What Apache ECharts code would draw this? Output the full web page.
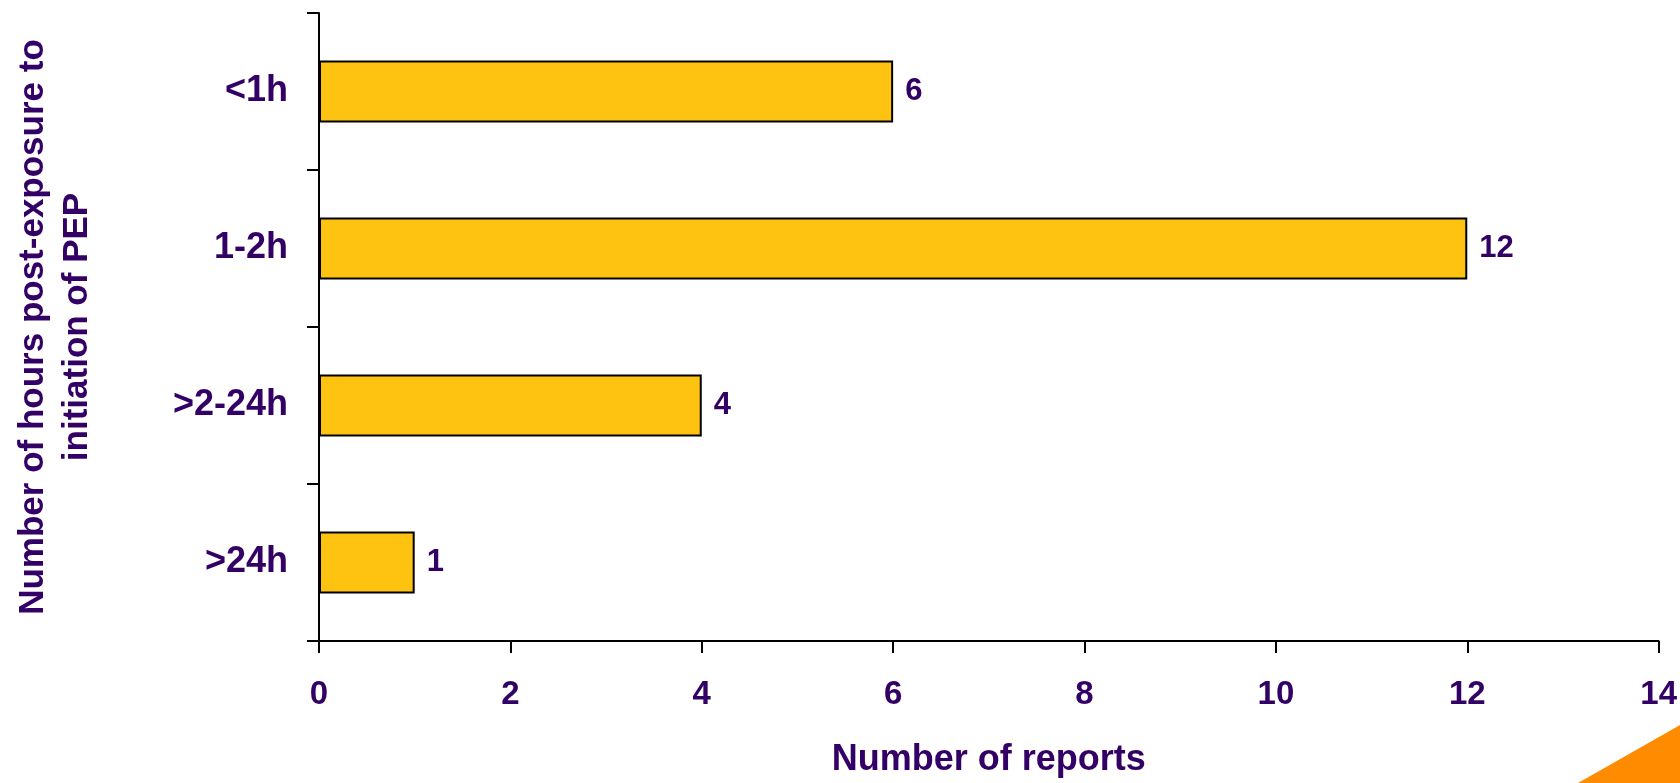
<!DOCTYPE html>
<html>
<head>
<meta charset="utf-8">
<script src="https://cdn.jsdelivr.net/npm/echarts@6/dist/echarts.min.js"></script>
<style>
html,body{margin:0;padding:0;background:#fff;}
#chart{width:1680px;height:783px;}
</style>
</head>
<body>
<div id="chart"></div>
<script>
const categories = ['<1h', '1-2h', '>2-24h', '>24h'];
const reports = [6, 12, 4, 1];
const xTicks = { min: 0, max: 14, interval: 2 };
const xTitle = 'Number of reports';
const yTitle = 'Number of hours post-exposure to\ninitiation of PEP';

const purple = '#330066';
const font = '"Liberation Sans", Arial, sans-serif';

const chart = echarts.init(document.getElementById('chart'), null, { renderer: 'canvas' });
chart.setOption({
  backgroundColor: '#ffffff',
  animation: false,
  grid: { left: 319, right: 21, top: 13, bottom: 132, containLabel: false },
  xAxis: {
    type: 'value',
    min: xTicks.min, max: xTicks.max, interval: xTicks.interval,
    name: xTitle,
    nameLocation: 'middle',
    nameGap: 101,
    nameTextStyle: { color: purple, fontSize: 36, fontWeight: 'bold', fontFamily: font },
    axisLine: { show: true, lineStyle: { color: '#000', width: 2 } },
    axisTick: { show: true, length: 12, lineStyle: { color: '#000', width: 2 } },
    axisLabel: { color: purple, fontSize: 33, fontWeight: 'bold', fontFamily: font, margin: 37 },
    splitLine: { show: false }
  },
  yAxis: {
    type: 'category',
    data: categories,
    inverse: true,
    name: yTitle,
    nameLocation: 'middle',
    nameRotate: 90,
    nameGap: 220,
    nameTextStyle: { color: purple, fontSize: 35, fontWeight: 'bold', fontFamily: font, lineHeight: 44, align: 'center' },
    axisLine: { show: true, lineStyle: { color: '#000', width: 2 } },
    axisTick: { show: true, length: 12, lineStyle: { color: '#000', width: 2 } },
    axisLabel: { color: purple, fontSize: 36, fontWeight: 'bold', fontFamily: font, margin: 31 },
    splitLine: { show: false }
  },
  series: [{
    type: 'bar',
    data: reports,
    barWidth: 62,
    itemStyle: { color: '#FEC211', borderColor: '#000', borderWidth: 2 },
    label: {
      show: true, position: 'right', distance: 12,
      color: purple, fontSize: 31, fontWeight: 'bold', fontFamily: font
    }
  }],
  graphic: [{
    type: 'polygon',
    shape: { points: [[1578, 783], [1680, 725], [1680, 783]] },
    style: { fill: '#FF8C00' },
    z: 0
  }]
});
</script>
</body>
</html>
